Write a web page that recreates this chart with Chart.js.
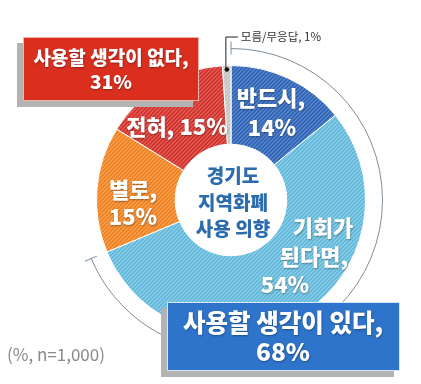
<!DOCTYPE html>
<html><head><meta charset="utf-8">
<script src="https://cdn.jsdelivr.net/npm/chart.js@4/dist/chart.umd.min.js"></script>
<style>html,body{margin:0;padding:0;background:#fff;}#wrap{width:421px;height:384px;position:relative;}</style>
</head><body><div id="wrap"><canvas id="c" width="421" height="384"></canvas></div>
<script>
const categories = ['반드시', '기회가 된다면', '별로', '전혀', '모름/무응답'];
const values = [14, 54, 15, 15, 1];
const baseColors = ['#2d60ae', '#5cb5d8', '#ef7c1a', '#d02c27', '#bdbdbd'];
const stripeColors = ['#5a88cf', '#90d0e8', '#f6a455', '#e2625a', '#dadada'];
const groupLabels = ['사용할 생각이 있다,', '68%', '사용할 생각이 없다,', '31%'];
const note = '(%, n=1,000)';

function stripes(base, stripe) {
  const n = 4, c = document.createElement('canvas');
  c.width = n; c.height = n;
  const x = c.getContext('2d');
  x.fillStyle = base; x.fillRect(0, 0, n, n);
  x.strokeStyle = stripe; x.lineWidth = 1.3;
  x.beginPath();
  x.moveTo(0, n); x.lineTo(n, 0);
  x.moveTo(-n, n); x.lineTo(n, -n);
  x.moveTo(0, 2 * n); x.lineTo(2 * n, 0);
  x.stroke();
  return x.createPattern(c, 'repeat');
}
const patterns = baseColors.map((b, i) => stripes(b, stripeColors[i]));

const KR = '"Noto Sans CJK KR", "Noto Sans", sans-serif';

function txt(ctx, s, x, y, size, color, weight, align, shadow) {
  ctx.save();
  ctx.font = (weight || 'bold') + ' ' + size + 'px ' + KR;
  ctx.textAlign = align || 'center';
  ctx.textBaseline = 'middle';
  if (shadow) { ctx.shadowColor = 'rgba(0,0,0,0.35)'; ctx.shadowBlur = 2; ctx.shadowOffsetX = 0.5; ctx.shadowOffsetY = 0.5; }
  ctx.fillStyle = color;
  ctx.fillText(s, x, y);
  ctx.restore();
}
function box(ctx, x, y, w, h, fill, border) {
  ctx.save();
  ctx.fillStyle = '#b3b3b3';
  ctx.fillRect(x - 6, y + 6, w, h);
  ctx.fillStyle = fill;
  ctx.fillRect(x, y, w, h);
  ctx.strokeStyle = border; ctx.lineWidth = 1;
  ctx.strokeRect(x + 0.5, y + 0.5, w - 1, h - 1);
  ctx.restore();
}

const deco = {
  id: 'deco',
  afterDatasetsDraw(chart) {
    const ctx = chart.ctx;
    const arcs = chart.getDatasetMeta(0).data;
    const cx = arcs[0].x, cy = arcs[0].y, R = arcs[0].outerRadius;
    const a0 = arcs[0].startAngle, a1 = arcs[1].endAngle, rb = R + 17;
    ctx.save();
    ctx.strokeStyle = '#7f8c99'; ctx.lineWidth = 1;
    ctx.beginPath(); ctx.arc(cx, cy, rb, a0, a1); ctx.stroke();
    [a0, a1].forEach(a => {
      ctx.beginPath();
      ctx.moveTo(cx + Math.cos(a) * (rb - 6), cy + Math.sin(a) * (rb - 6));
      ctx.lineTo(cx + Math.cos(a) * (rb + 7), cy + Math.sin(a) * (rb + 7));
      ctx.stroke();
    });
    const g = arcs[4], gm = (g.startAngle + g.endAngle) / 2;
    const dx = cx + Math.cos(gm) * (R - 4), dy = cy + Math.sin(gm) * (R - 4);
    ctx.strokeStyle = '#222'; ctx.fillStyle = '#111';
    ctx.beginPath(); ctx.arc(dx, dy, 2.3, 0, Math.PI * 2); ctx.fill();
    ctx.beginPath(); ctx.moveTo(dx - 1, dy); ctx.lineTo(dx - 1, cy - 163); ctx.lineTo(dx + 11, cy - 163); ctx.stroke();
    ctx.restore();
    txt(ctx, categories[4] + ', ' + values[4] + '%', dx + 14, cy - 163, 11.5, '#333', 'normal', 'left');

    const W = '#ffffff', S = 22, B = '900';
    txt(ctx, categories[0] + ',', cx + 40, cy - 102, S, W, B, 'center', true);
    txt(ctx, values[0] + '%', cx + 41, cy - 72, S, W, B, 'center', true);
    const p = categories[1].split(' ');
    txt(ctx, p[0], cx + 92, cy + 28, S, W, B, 'center', true);
    txt(ctx, p[1] + ',', cx + 83, cy + 57, S, W, B, 'center', true);
    txt(ctx, values[1] + '%', cx + 54, cy + 85, S, W, B, 'center', true);
    txt(ctx, categories[2] + ',', cx - 98, cy - 10, S, W, B, 'center', true);
    txt(ctx, values[2] + '%', cx - 98, cy + 17, S, W, B, 'center', true);
    txt(ctx, categories[3] + ', ' + values[3] + '%', cx - 54, cy - 73, S, W, B, 'center', true);

    const C = '#2b6bae';
    txt(ctx, '경기도', cx + 2, cy - 24, 19, C, B);
    txt(ctx, '지역화폐', cx + 2, cy + 3, 19, C, B);
    txt(ctx, '사용 의향', cx + 2, cy + 29, 19, C, B);

    box(ctx, 23, 37, 176, 64, '#da2f1f', '#f3b0a8');
    txt(ctx, groupLabels[2], 111, 58, 19, W, B, 'center', true);
    txt(ctx, groupLabels[3], 111, 82, 19, W, B, 'center', true);
    box(ctx, 167, 302, 233, 69, '#2f74cb', '#d6e4f5');
    txt(ctx, groupLabels[0], 283, 323, 24.5, W, B, 'center', true);
    txt(ctx, groupLabels[1], 283, 352, 24.5, W, B, 'center', true);

    txt(ctx, note, 7, 355, 17, '#8a8a8a', 'normal', 'left');
  }
};

new Chart(document.getElementById('c'), {
  type: 'doughnut',
  data: {
    labels: categories,
    datasets: [{
      data: values,
      backgroundColor: patterns,
      borderColor: '#ffffff',
      borderWidth: 1
    }]
  },
  options: {
    responsive: false,
    animation: false,
    cutout: '41.5%',
    layout: { padding: { left: 96, right: 55, top: 65, bottom: 49 } },
    plugins: { legend: { display: false }, tooltip: { enabled: false } }
  },
  plugins: [deco]
});
</script></body></html>
